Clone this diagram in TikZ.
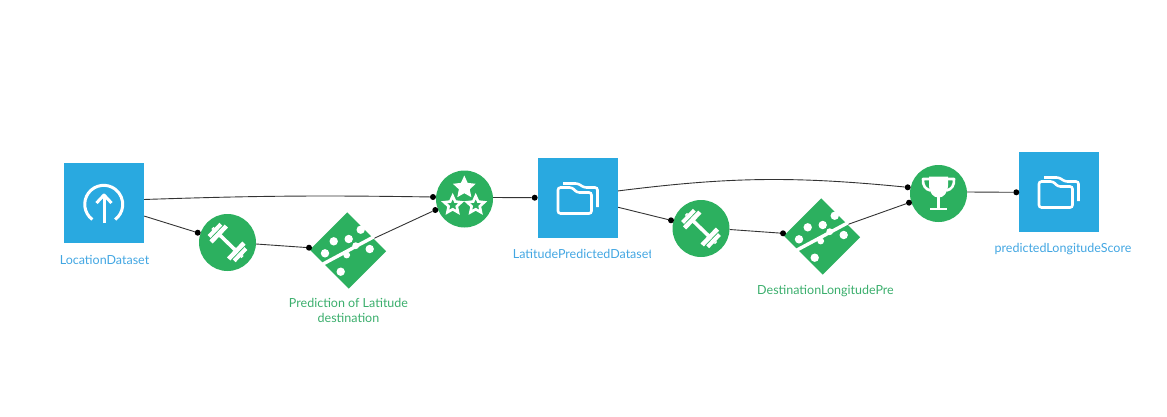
\documentclass[tikz,border=0pt]{standalone}
\usepackage{fontspec}
\setmainfont{Lato}
\usetikzlibrary{shapes.geometric}

\definecolor{dsblue}{HTML}{29A9E0}
\definecolor{dsgreen}{HTML}{2CB05F}
\definecolor{lblblue}{HTML}{42A6E2}
\definecolor{lblgreen}{HTML}{3AAE6C}

% white glyphs, drawn around a named node
\newcommand{\uploadicon}[1]{
  \begin{scope}[shift={(#1)},white,line width=3pt]
    \draw (-11.7,16.5) arc[start angle=127,end angle=413,radius=19];
    \draw (0,20) -- (0,-8);
    \draw[line join=round] (-7.5,0) -- (0,-8) -- (7.5,0);
  \end{scope}}
\newcommand{\foldericon}[1]{
  \begin{scope}[shift={(#1)},white,line width=2.6pt,rounded corners=2.5pt]
    \draw (-20,15.5) -- (-20,-10.5) -- (-6,-10.5) -- (-1,-5.5) -- (13.5,-5.5) -- (13.5,15.5) -- cycle;
    \draw (-15,-14.5) -- (0,-14.5) -- (6,-10.5) -- (19.5,-10.5) -- (19.5,9);
  \end{scope}}
\newcommand{\dumbbellicon}[1]{
  \begin{scope}[shift={(#1)},rotate=-44,white]
    \fill (-11,-1.8) rectangle (11,1.8);
    \foreach \s in {-1,1} {
      \fill (\s*10,-11) rectangle (\s*14.5,11);
      \fill (\s*15.5,-8.5) rectangle (\s*19.5,8.5);
      \fill (\s*19.5,-1.5) rectangle (\s*21,1.5);
    }
  \end{scope}}
\newcommand{\dominoicon}[1]{
  \begin{scope}[shift={(#1)},white]
    \draw[line width=3.4pt] (-25,13.5) -- (26,-13.8);
    \foreach \x/\y in {-23/2.8,-14.3/-9.2,0.7/-11.5,12.7/-20.8,21.7/-1.5,-7.3/21.2}
      \fill (\x,\y) circle (4.2);
    \foreach \x/\y in {7.7/-4.8,-1.3/4.5}
      \fill (\x,\y) circle (3.4);
  \end{scope}}
\newcommand{\trophyicon}[1]{
  \begin{scope}[shift={(#1)},white]
    \fill (-9.5,-17) -- (9.5,-17) -- (9.5,-8) .. controls (9,0) and (5,4) .. (0,4) .. controls (-5,4) and (-9,0) .. (-9.5,-8) -- cycle;
    \draw[line width=2.6pt,line join=round] (-9,-14.5) -- (-15.5,-14.5) .. controls (-16,-8) and (-13,-4) .. (-8,-3);
    \draw[line width=2.6pt,line join=round] (9,-14.5) -- (15.5,-14.5) .. controls (16,-8) and (13,-4) .. (8,-3);
    \draw[line width=2.6pt] (0,3) -- (0,15);
    \draw[line width=2.6pt] (-8.5,15.5) -- (8.5,15.5);
  \end{scope}}

\begin{document}
\begin{tikzpicture}[x=1pt,y=-1pt,
    dataset/.style={rectangle,fill=dsblue,inner sep=0pt,minimum size=80pt},
    recipe/.style={circle,fill=dsgreen,inner sep=0pt,minimum size=57pt},
    model/.style={rectangle,fill=dsgreen,inner sep=0pt,minimum width=55pt,minimum height=53pt,rotate=-45},
    port/.style={circle,fill=black,inner sep=0pt,minimum size=6pt},
    link/.style={draw=black!80,line width=0.9pt},
    bluelabel/.style={font=\fontsize{12.5}{14}\selectfont,text=lblblue,inner sep=0pt},
    greenlabel/.style={font=\fontsize{12.5}{14.5}\selectfont,text=lblgreen,inner sep=0pt,align=center},
    staron/.style={star,star points=5,star point ratio=2.1,inner sep=0pt}]

  \useasboundingbox (0,0) rectangle (1167,416);

  \node[dataset] (upload) at (104,203) {};
  \node[recipe] (trainA) at (227.5,242.5) {};
  \node[model] (modelA) at (348,250.5) {};
  \node[recipe] (scoreA) at (464.5,199) {};
  \node[dataset] (folderA) at (578,198) {};
  \node[recipe] (trainB) at (701,228.5) {};
  \node[model] (modelB) at (822,236.5) {};
  \node[recipe] (trophy) at (938.5,193.5) {};
  \node[dataset] (folderB) at (1059,192) {};

  \node[port] (trainAin) at (197.7,232.7) {};
  \node[port] (modelAin) at (309,247.7) {};
  \node[port] (scoreAup) at (433,197) {};
  \node[port] (scoreAlow) at (435.3,210) {};
  \node[port] (folderAin) at (534.7,197.7) {};
  \node[port] (trainBin) at (671,220.3) {};
  \node[port] (modelBin) at (783,233.3) {};
  \node[port] (trophyup) at (907.7,187.3) {};
  \node[port] (trophylow) at (909,202.7) {};
  \node[port] (folderBin) at (1016.3,192.3) {};

  \path[link]
    (upload.5) edge [bend left=1.4] (scoreAup)
    (upload.-18) edge (trainAin)
    (trainA.-3) edge (modelAin)
    (modelA.70) edge (scoreAlow)
    (scoreA.3) edge (folderAin)
    (folderA.10) edge [bend left=6.4] (trophyup)
    (folderA.-13) edge (trainBin)
    (trainB.-2) edge (modelBin)
    (modelB.70) edge (trophylow)
    (trophy.3) edge (folderBin);

  \uploadicon{upload}
  \dumbbellicon{trainA}
  \dominoicon{modelA}
  \node[staron,fill=white,minimum size=24pt] (starTop) at (464.3,187.5) {};
  \node[staron,draw=white,line width=2.6pt,minimum size=18pt] (starLeft) at (452.7,205) {};
  \node[staron,draw=white,line width=2.6pt,minimum size=18pt] (starRight) at (475.7,205) {};
  \foldericon{folderA}
  \dumbbellicon{trainB}
  \dominoicon{modelB}
  \trophyicon{trophy}
  \foldericon{folderB}

  \node[bluelabel] (uploadlbl) at (104.5,260) {LocationDataset};
  \node[greenlabel] (modelAlbl) at (348.5,310.5) {Prediction of Latitude\\destination};
  \begin{scope}
    \clip (505,240) rectangle (650.5,270);
    \node[bluelabel,anchor=west] (folderAlbl) at (512.7,254) {LatitudePredictedDataset};
  \end{scope}
  \node[greenlabel] (modelBlbl) at (825.5,291) {DestinationLongitudePre};
  \node[bluelabel] (folderBlbl) at (1063,249) {predictedLongitudeScore};
\end{tikzpicture}
\end{document}
